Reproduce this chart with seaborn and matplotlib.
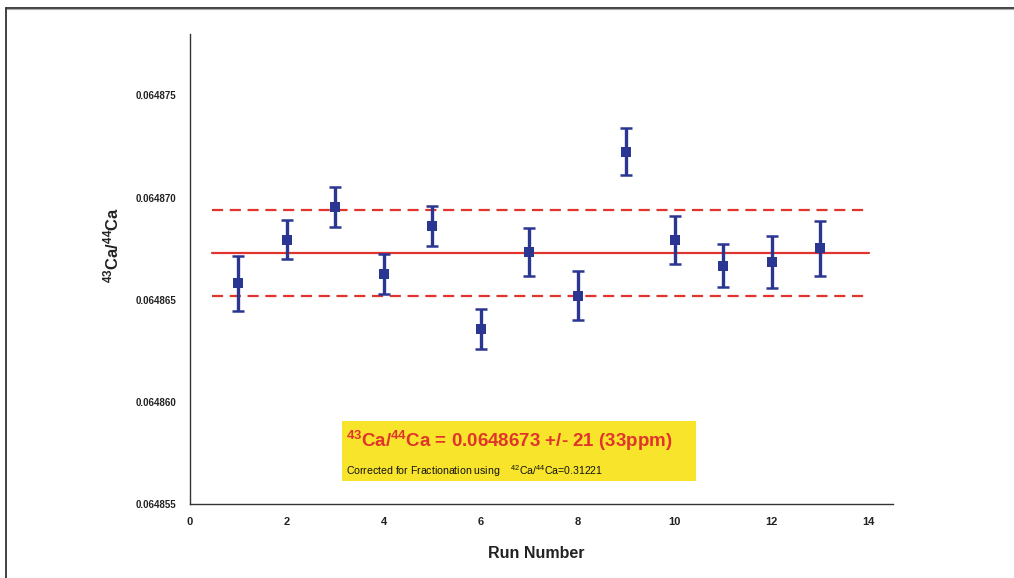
import numpy as np
import pandas as pd
import matplotlib
matplotlib.use("Agg")
import matplotlib.pyplot as plt
from matplotlib.lines import Line2D
from matplotlib.patches import Rectangle
import seaborn as sns

# ---- data ----
run = [1, 2, 3, 4, 5, 6, 7, 8, 9, 10, 11, 12, 13]
ratio = [0.06486580, 0.06486795, 0.06486953, 0.06486626, 0.06486860, 0.06486357,
         0.06486735, 0.06486520, 0.06487224, 0.06486793, 0.06486667, 0.06486686,
         0.06486751]
err = [0.00000135, 0.00000093, 0.00000099, 0.00000097, 0.00000099, 0.00000098,
       0.00000118, 0.00000120, 0.00000114, 0.00000117, 0.00000105, 0.00000127,
       0.00000134]
mean_value = 0.0648673
mean_err = 0.0000021
line_x = [0.45, 14]
xticks = [0, 2, 4, 6, 8, 10, 12, 14]
yticks = [0.064855, 0.064860, 0.064865, 0.064870, 0.064875]

df = pd.DataFrame({"run": run, "ratio": ratio, "err": err})

sns.set_style("white")
plt.rcParams["font.family"] = ["Liberation Sans", "DejaVu Sans"]
plt.rcParams["mathtext.default"] = "regular"

fig = plt.figure(figsize=(10.14, 5.78), dpi=100)
ax = fig.add_axes([190 / 1014, 1 - 504.3 / 578, 703 / 1014, 470.3 / 578])

navy = "#2b3592"
red = "#e0342c"

# reference lines
ax.plot(line_x, [mean_value] * 2, color=red, lw=1.6, zorder=2)
ax.plot(line_x, [mean_value + mean_err] * 2, color=red, lw=1.6,
        dashes=(5, 3), zorder=2)
ax.plot(line_x, [mean_value - mean_err] * 2, color=red, lw=1.6,
        dashes=(5, 3), zorder=2)

# error bars and markers
ax.errorbar(df["run"], df["ratio"], yerr=df["err"], fmt="none", ecolor=navy,
            elinewidth=2.4, capsize=4, capthick=1.8, zorder=3)
sns.scatterplot(data=df, x="run", y="ratio", marker="s", s=45, color=navy,
                edgecolor=navy, linewidth=0, ax=ax, zorder=4, legend=False)

ax.set_xlim(0, 14.5)
ax.set_ylim(0.064855, 0.064878)
ax.set_xticks(xticks)
ax.set_xticklabels([str(t) for t in xticks])
ax.set_yticks(yticks)
ax.set_yticklabels([f"{t:.6f}" for t in yticks])

for s in ["top", "right"]:
    ax.spines[s].set_visible(False)
for s in ["left", "bottom"]:
    ax.spines[s].set_color("#333333")
    ax.spines[s].set_linewidth(1.0)

ax.tick_params(axis="both", which="major", direction="out", length=4,
               width=1, color="#333333", labelcolor="#222222")
ax.tick_params(axis="y", labelsize=7, pad=6)
ax.tick_params(axis="x", labelsize=8, pad=5)
for lbl in ax.get_xticklabels() + ax.get_yticklabels():
    lbl.set_fontweight("bold")

ax.set_xlabel("Run Number", fontsize=11.5, fontweight="bold", color="#222222")
ax.xaxis.set_label_coords(0.492, -0.088)
ax.set_ylabel(r"$^{43}$Ca/$^{44}$Ca", fontsize=12, fontweight="bold",
              color="#222222")
ax.yaxis.set_label_coords(-0.097, 0.551)

# annotation box
ax.add_patch(Rectangle((3.14, 0.06485613), 10.43 - 3.14, 0.06485907 - 0.06485613,
                       facecolor="#f8e52b", edgecolor="none", zorder=1))
ax.text(3.22, 0.06485809, r"$^{43}$Ca/$^{44}$Ca = 0.0648673 +/- 21 (33ppm)",
        color=red, fontsize=13.5, fontweight="bold", va="center", ha="left",
        zorder=5)
ax.text(3.22, 0.06485663,
        r"Corrected for Fractionation using    $^{42}$Ca/$^{44}$Ca=0.31221",
        color="#111111", fontsize=7.6, va="center", ha="left", zorder=5)

# outer frame (top and left borders)
fig.add_artist(Line2D([6 / 1014, 1], [1 - 7.5 / 578] * 2, transform=fig.transFigure,
                      color="#333333", lw=1.3))
fig.add_artist(Line2D([6 / 1014, 1], [1 - 9 / 578] * 2, transform=fig.transFigure,
                      color="#aaaaaa", lw=0.8))
fig.add_artist(Line2D([6 / 1014] * 2, [0, 1 - 7.5 / 578], transform=fig.transFigure,
                      color="#333333", lw=1.3))

fig.savefig("out.png", dpi=100)
